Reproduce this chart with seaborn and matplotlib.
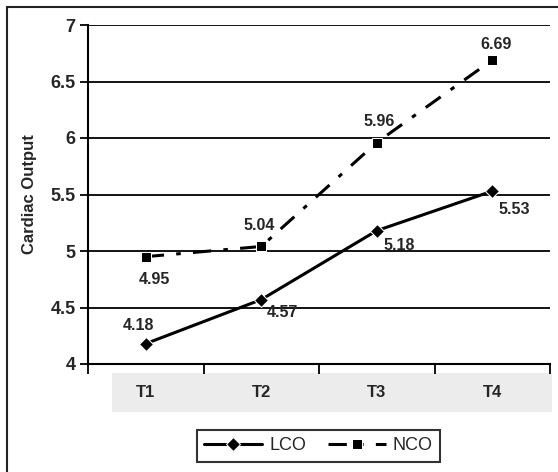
import pandas as pd
import seaborn as sns
import matplotlib.pyplot as plt
from matplotlib.patches import Rectangle
from matplotlib.lines import Line2D

times = ['T1', 'T2', 'T3', 'T4']
lco = [4.18, 4.57, 5.18, 5.53]
nco = [4.95, 5.04, 5.96, 6.69]

df = pd.DataFrame({'Time': times * 2,
                   'CO': lco + nco,
                   'Group': ['LCO'] * 4 + ['NCO'] * 4})

sns.set_style('white')
plt.rcParams['font.family'] = ['Liberation Sans', 'DejaVu Sans']

W, H = 558, 472
fig = plt.figure(figsize=(W / 100, H / 100), dpi=100)
ax = fig.add_axes([88 / W, 1 - 364 / H, (550 - 88) / W, (364 - 25) / H])
ax.set_zorder(2)
ax.patch.set_alpha(0)

# grey band behind the category labels
fig.patches.append(Rectangle((112 / W, 1 - 412 / H), (552 - 112) / W, 39 / H,
                             transform=fig.transFigure, facecolor='#ececec',
                             edgecolor='none', zorder=-1))
# outer frame (top and left edges visible)
fig.add_artist(Line2D([7 / W, 1], [1 - 7 / H, 1 - 7 / H], color='#222222', lw=1.5))
fig.add_artist(Line2D([7 / W, 7 / W], [0, 1 - 7 / H], color='#222222', lw=1.5))

sns.lineplot(data=df[df.Group == 'LCO'], x='Time', y='CO', ax=ax, color='black',
             lw=2.2, marker='D', markersize=7, label='LCO')
sns.lineplot(data=df[df.Group == 'NCO'], x='Time', y='CO', ax=ax, color='black',
             lw=2.2, marker='s', markersize=7, dashes=(6, 4, 1.5, 4), label='NCO')

ax.set_xlim(-0.5, 3.5)
ax.set_ylim(4, 7)
ax.set_yticks([4, 4.5, 5, 5.5, 6, 6.5, 7])
ax.set_yticklabels(['4', '4.5', '5', '5.5', '6', '6.5', '7'])
for y in [4.5, 5, 5.5, 6, 6.5, 7]:
    ax.axhline(y, color='black', lw=1.3, zorder=0)

ax.set_xticks(range(4))
ax.set_xticklabels(times)
ax.set_xticks([-0.5, 0.5, 1.5, 2.5, 3.5], minor=True)
ax.tick_params(axis='x', which='major', bottom=True, length=0, pad=15, labelsize=12)
ax.tick_params(axis='x', which='minor', bottom=True, length=7, width=1.3,
               direction='out', color='black')
ax.tick_params(axis='y', left=True, length=6, width=1.3, direction='out',
               color='black', labelsize=13, pad=3)
for lab in ax.get_xticklabels() + ax.get_yticklabels():
    lab.set_fontweight('bold')

for s in ['top', 'right']:
    ax.spines[s].set_visible(False)
for s in ['left', 'bottom']:
    ax.spines[s].set_color('black')
    ax.spines[s].set_linewidth(1.5)

ax.set_xlabel('')
ax.set_ylabel('Cardiac Output', fontsize=12, fontweight='bold')
ax.yaxis.set_label_coords(-0.11, 0.5)

# value labels
lco_off = [(-5, 13), (15, -9), (16, -11), (16, -13)]
nco_off = [(6.5, -16.5), (-1.5, 15), (1.5, 15), (3, 11)]
for i, (v, o) in enumerate(zip(lco, lco_off)):
    ax.annotate(f'{v:.2f}', (i, v), xytext=o, textcoords='offset points',
                ha='center', va='center', fontsize=11.5, fontweight='bold')
for i, (v, o) in enumerate(zip(nco, nco_off)):
    ax.annotate(f'{v:.2f}', (i, v), xytext=o, textcoords='offset points',
                ha='center', va='center', fontsize=11.5, fontweight='bold')

leg = ax.legend(loc='center', bbox_to_anchor=(318.5 / W, 1 - 446 / H),
                bbox_transform=fig.transFigure, ncol=2, frameon=True,
                fancybox=False, fontsize=13, handlelength=3.2,
                columnspacing=1.2, borderpad=0.4, handletextpad=0.4)
leg.get_frame().set_edgecolor('black')
leg.get_frame().set_linewidth(1.5)

plt.savefig('out.png', dpi=100)
